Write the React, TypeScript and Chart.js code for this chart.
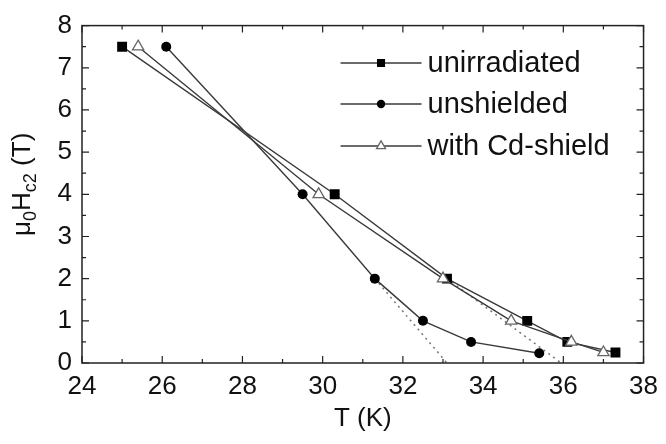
import React, { useEffect, useRef } from "react";
import { Chart, registerables } from "chart.js";

Chart.register(...registerables);

// ---- data ----
const unirrT = [25.0, 30.3, 33.1, 35.1, 36.1, 37.3];
const unirrH = [7.5, 4.0, 2.0, 1.0, 0.5, 0.25];
const unshT = [26.1, 29.5, 31.3, 32.5, 33.7, 35.4];
const unshH = [7.5, 4.0, 2.0, 1.0, 0.5, 0.23];
const cdT = [25.4, 29.9, 33.0, 34.7, 36.2, 37.0];
const cdH = [7.5, 4.0, 2.0, 1.0, 0.5, 0.25];
const fitUnshT = [31.3, 33.1];
const fitUnshH = [2.0, 0.0];
const fitUnirrT = [33.1, 35.95];
const fitUnirrH = [2.0, 0.0];
const legendLabels = ["unirradiated", "unshielded", "with Cd-shield"];
const xMin = 24, xMax = 38, xStep = 2, xMinor = 1;
const yMin = 0, yMax = 8, yStep = 1, yMinor = 0.5;

const toPts = (xs: number[], ys: number[]) => xs.map((x, i) => ({ x, y: ys[i] }));

const FONT = "'Liberation Sans', Arial, Helvetica, sans-serif";
const LINE = "#3a3a3a";

function drawMarker(ctx: CanvasRenderingContext2D, kind: string, x: number, y: number, r: number) {
  ctx.save();
  ctx.beginPath();
  if (kind === "rect") {
    const s = r * Math.SQRT1_2;
    ctx.rect(x - s, y - s, 2 * s, 2 * s);
    ctx.fillStyle = "#000";
    ctx.fill();
  } else if (kind === "circle") {
    ctx.arc(x, y, r, 0, Math.PI * 2);
    ctx.fillStyle = "#000";
    ctx.fill();
  } else {
    const w = r * Math.sqrt(3) / 2;
    ctx.moveTo(x, y - r);
    ctx.lineTo(x + w, y + r / 2);
    ctx.lineTo(x - w, y + r / 2);
    ctx.closePath();
    ctx.fillStyle = "#fff";
    ctx.fill();
    ctx.strokeStyle = "#666";
    ctx.lineWidth = 1.3;
    ctx.stroke();
  }
  ctx.restore();
}

const framePlugin = {
  id: "framePlugin",
  afterDraw(chart: any) {
    const { ctx, chartArea: a, scales } = chart;
    const xs = scales.x, ys = scales.y;
    ctx.save();
    ctx.strokeStyle = "#222";
    ctx.lineWidth = 1.5;
    ctx.strokeRect(a.left, a.top, a.right - a.left, a.bottom - a.top);
    ctx.lineWidth = 1.2;
    ctx.beginPath();
    for (let v = xMin; v <= xMax + 1e-9; v += xMinor) {
      const px = xs.getPixelForValue(v);
      const major = Math.abs((v - xMin) / xStep - Math.round((v - xMin) / xStep)) < 1e-6;
      const len = major ? 7 : 4;
      ctx.moveTo(px, a.bottom); ctx.lineTo(px, a.bottom - len);
      ctx.moveTo(px, a.top); ctx.lineTo(px, a.top + len);
    }
    for (let v = yMin; v <= yMax + 1e-9; v += yMinor) {
      const py = ys.getPixelForValue(v);
      const major = Math.abs((v - yMin) / yStep - Math.round((v - yMin) / yStep)) < 1e-6;
      const len = major ? 7 : 4;
      ctx.moveTo(a.left, py); ctx.lineTo(a.left + len, py);
      ctx.moveTo(a.right, py); ctx.lineTo(a.right - len, py);
    }
    ctx.stroke();

    // legend
    const kinds = ["rect", "circle", "triangle"];
    const sizes = [5.7, 4.2, 5.2];
    const rowY = [63, 104, 146];
    const lx0 = a.right - 303, lx1 = a.right - 222, tx = a.right - 216;
    for (let i = 0; i < 3; i++) {
      const y = rowY[i];
      ctx.strokeStyle = LINE;
      ctx.lineWidth = 1.4;
      ctx.beginPath();
      ctx.moveTo(lx0, y); ctx.lineTo(lx1, y);
      ctx.stroke();
      drawMarker(ctx, kinds[i], (lx0 + lx1) / 2, y, sizes[i]);
      ctx.fillStyle = "#111";
      ctx.font = `29px ${FONT}`;
      ctx.textBaseline = "middle";
      ctx.textAlign = "left";
      ctx.fillText(legendLabels[i], tx, y + 1);
    }

    // y-axis title with subscripts
    const parts: [string, boolean][] = [["μ", false], ["0", true], ["H", false], ["c2", true], [" (T)", false]];
    const mainF = `26px ${FONT}`, subF = `18px ${FONT}`;
    let total = 0;
    for (const [t, sub] of parts) { ctx.font = sub ? subF : mainF; total += ctx.measureText(t).width; }
    ctx.translate(30, (a.top + a.bottom) / 2 - 10);
    ctx.rotate(-Math.PI / 2);
    ctx.textBaseline = "alphabetic";
    ctx.textAlign = "left";
    ctx.fillStyle = "#111";
    let cx = -total / 2;
    for (const [t, sub] of parts) {
      ctx.font = sub ? subF : mainF;
      ctx.fillText(t, cx, sub ? 6 : 0);
      cx += ctx.measureText(t).width;
    }
    ctx.restore();
  },
};

export default function App() {
  const ref = useRef<HTMLCanvasElement | null>(null);
  useEffect(() => {
    document.body.style.margin = "0";
    const canvas = ref.current!;
    const lineDs = (label: string, data: any, style: string, r: number, fill: string, stroke: string) => ({
      label,
      data,
      showLine: true,
      borderColor: LINE,
      borderWidth: 1.4,
      pointStyle: style,
      pointRadius: r,
      pointBackgroundColor: fill,
      pointBorderColor: stroke,
      pointBorderWidth: style === "triangle" ? 1.3 : 0,
      order: 1,
    });
    const chart = new Chart(canvas, {
      type: "scatter",
      data: {
        datasets: [
          {
            label: "fit1",
            data: toPts(fitUnshT, fitUnshH),
            showLine: true,
            borderColor: "#777",
            borderWidth: 1.5,
            borderDash: [2, 4],
            pointRadius: 0,
            order: 5,
          },
          {
            label: "fit2",
            data: toPts(fitUnirrT, fitUnirrH),
            showLine: true,
            borderColor: "#777",
            borderWidth: 1.5,
            borderDash: [2, 4],
            pointRadius: 0,
            order: 5,
          },
          lineDs(legendLabels[1], toPts(unshT, unshH), "circle", 5, "#000", "#000"),
          lineDs(legendLabels[2], toPts(cdT, cdH), "triangle", 6.5, "#fff", "#666"),
          lineDs(legendLabels[0], toPts(unirrT, unirrH), "rect", 7, "#000", "#000"),
        ] as any,
      },
      options: {
        animation: false,
        responsive: false,
        devicePixelRatio: 1,
        layout: { padding: { top: 22, right: 17, left: 0, bottom: 0 } },
        plugins: { legend: { display: false }, tooltip: { enabled: false } },
        scales: {
          x: {
            type: "linear",
            min: xMin,
            max: xMax,
            grid: { display: false, drawTicks: false },
            border: { display: false },
            ticks: {
              stepSize: xStep,
              autoSkip: false,
              maxRotation: 0,
              padding: 8,
              color: "#111",
              font: { size: 26, family: FONT },
            },
            title: {
              display: true,
              text: "T (K)",
              color: "#111",
              font: { size: 26, family: FONT },
              padding: { top: 0, bottom: 10 },
            },
            afterFit: (s: any) => { s.height = 81; },
          },
          y: {
            type: "linear",
            min: yMin,
            max: yMax,
            grid: { display: false, drawTicks: false },
            border: { display: false },
            ticks: {
              stepSize: yStep,
              autoSkip: false,
              padding: 10,
              color: "#111",
              font: { size: 26, family: FONT },
            },
            afterFit: (s: any) => { s.width = 82; },
          },
        },
      },
      plugins: [framePlugin],
    } as any);
    return () => chart.destroy();
  }, []);
  return (
    <div style={{ width: 666, height: 444 }}>
      <canvas ref={ref} width={666} height={444} style={{ display: "block" }} />
    </div>
  );
}
